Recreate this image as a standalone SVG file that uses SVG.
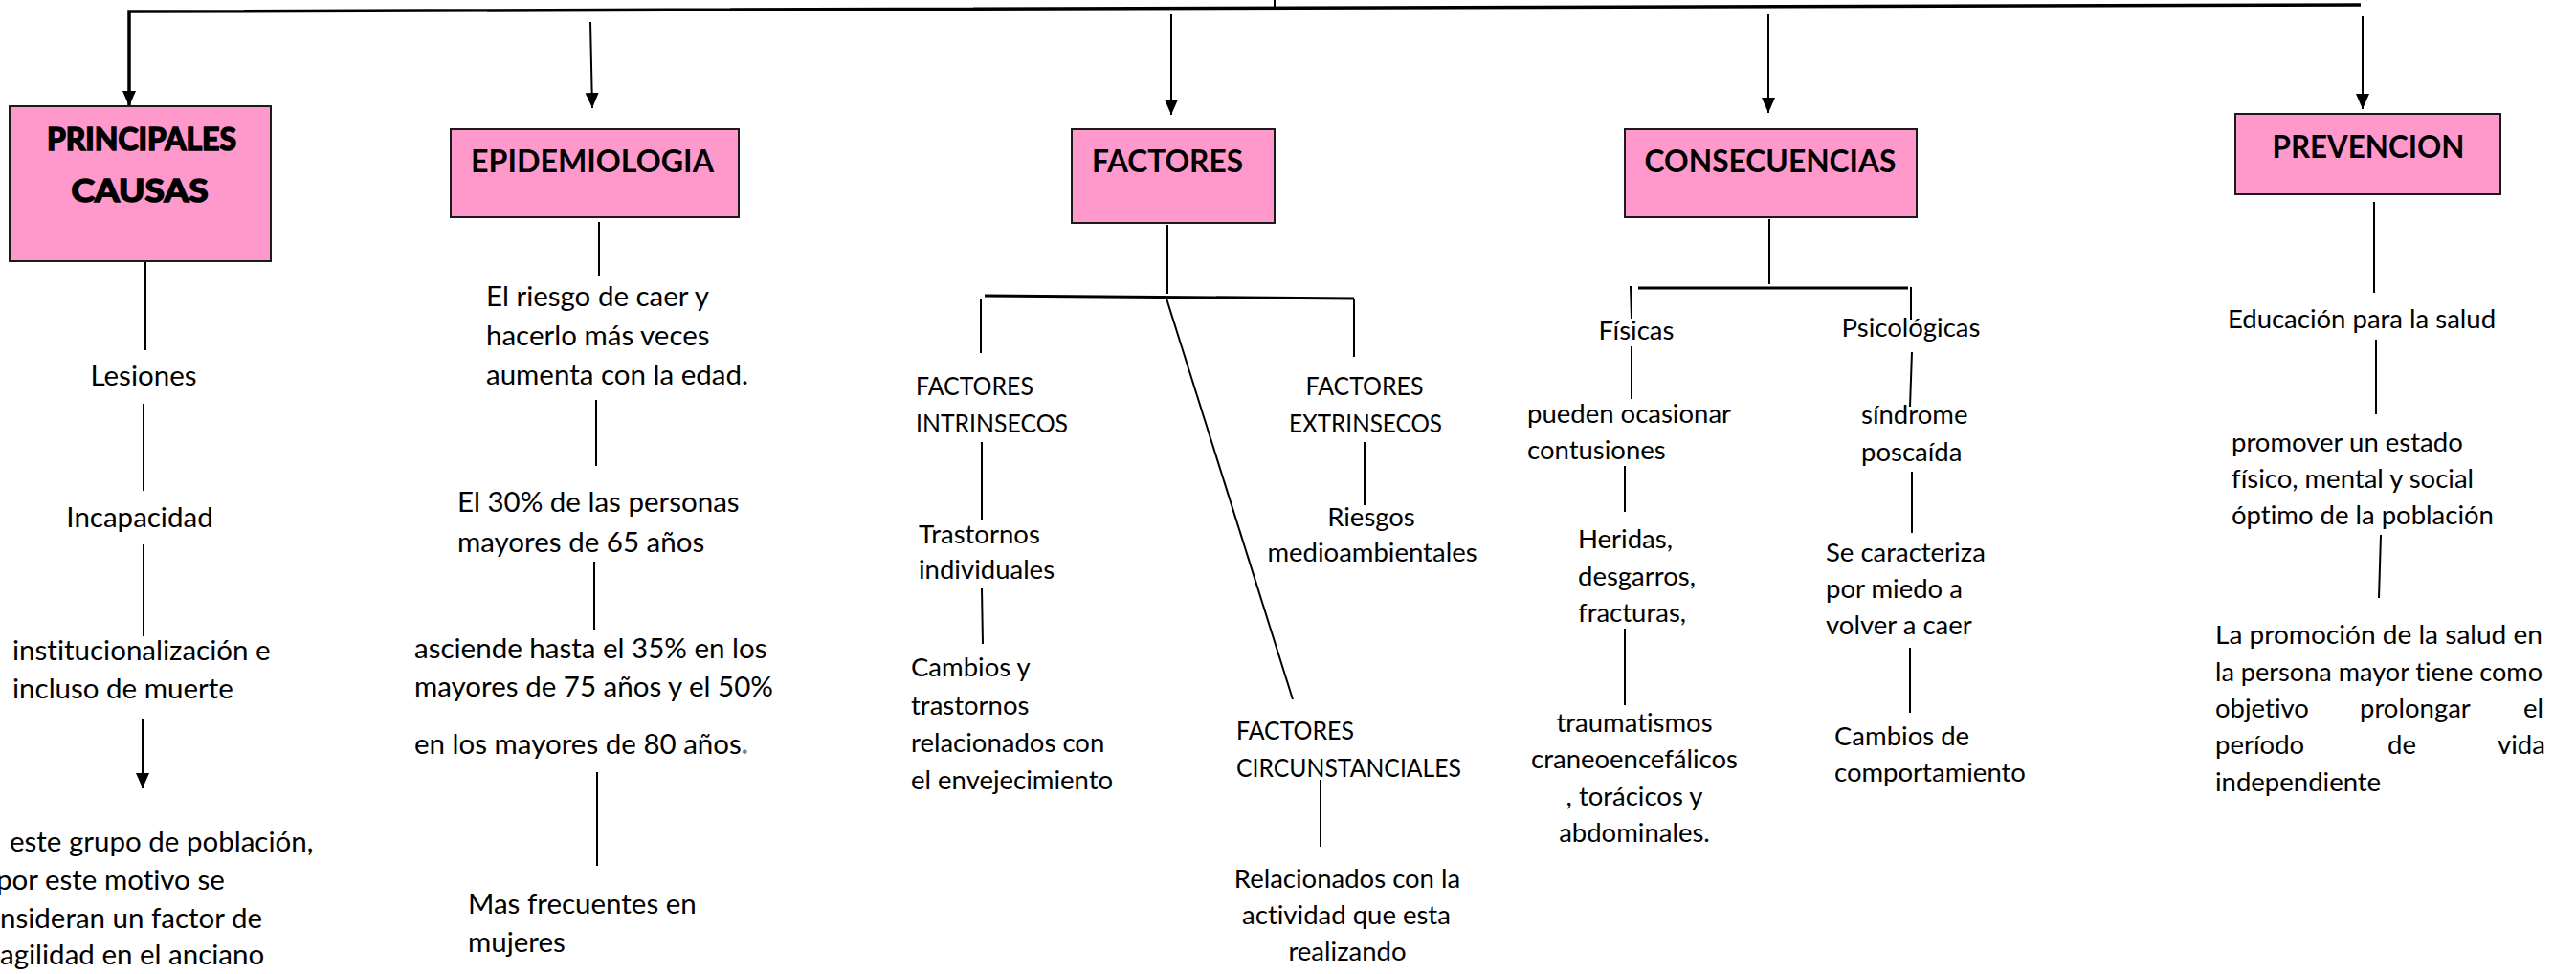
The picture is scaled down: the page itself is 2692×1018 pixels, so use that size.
<svg xmlns="http://www.w3.org/2000/svg" width="2692" height="1018" viewBox="0 0 2692 1018">
<style>
.bg{fill:#ffffff}
.box{fill:#ff99cc;stroke:#1a1a1a;stroke-width:2}
text{font-variant-ligatures:none}
.h{font-family:Lato,"Liberation Sans",sans-serif;font-weight:bold;font-size:32px;fill:#000}
.hh{stroke:#000;stroke-width:1.6}
.t{font-family:Lato,"Liberation Sans",sans-serif;font-size:29.5px;fill:#000}
.s{font-family:Lato,"Liberation Sans",sans-serif;font-size:27.5px;fill:#000}
.m{text-anchor:middle}
.ln{stroke:#000;stroke-width:2;fill:none}
.thick{stroke:#000;stroke-width:3.5;fill:none}
.mid{stroke:#000;stroke-width:3;fill:none}
.dot{fill:#808080;font-weight:bold}
</style>
<defs>
<marker id="ah" viewBox="0 0 16 14" markerWidth="16" markerHeight="14" refX="16" refY="7" orient="auto" markerUnits="userSpaceOnUse">
<path d="M0,0 L16,7 L0,14 z" fill="#000"/>
</marker>
</defs>
<rect class="bg" x="0" y="0" width="2692" height="1018"/>

<g id="connectors">
<line class="ln" x1="1332" y1="0" x2="1332" y2="9"/>
<polyline class="thick" points="135,112 135,12 2467,5"/>
<line class="ln" x1="135" y1="20" x2="135" y2="111" marker-end="url(#ah)"/>
<line class="ln" x1="617" y1="23" x2="619" y2="113" marker-end="url(#ah)"/>
<line class="ln" x1="1224" y1="15" x2="1224" y2="120" marker-end="url(#ah)"/>
<line class="ln" x1="1848" y1="15" x2="1848" y2="118" marker-end="url(#ah)"/>
<line class="ln" x1="2469" y1="17" x2="2469" y2="114" marker-end="url(#ah)"/>

<line class="ln" x1="152" y1="273" x2="152" y2="366"/>
<line class="ln" x1="150" y1="422" x2="150" y2="513"/>
<line class="ln" x1="150" y1="569" x2="150" y2="665"/>
<line class="ln" x1="149" y1="752" x2="149" y2="824" marker-end="url(#ah)"/>

<line class="ln" x1="626" y1="232" x2="626" y2="288"/>
<line class="ln" x1="623" y1="418" x2="623" y2="487"/>
<line class="ln" x1="621" y1="587" x2="621" y2="658"/>
<line class="ln" x1="624" y1="807" x2="624" y2="905"/>

<line class="ln" x1="1220" y1="235" x2="1220" y2="307"/>
<line class="mid" x1="1029" y1="309" x2="1415" y2="312"/>
<line class="ln" x1="1025" y1="312" x2="1025" y2="369"/>
<line class="ln" x1="1415" y1="312" x2="1415" y2="373"/>
<line class="ln" x1="1219" y1="312" x2="1351" y2="731"/>
<line class="ln" x1="1026" y1="462" x2="1026" y2="544"/>
<line class="ln" x1="1026" y1="615" x2="1027" y2="673"/>
<line class="ln" x1="1426" y1="462" x2="1426" y2="528"/>
<line class="ln" x1="1380" y1="815" x2="1380" y2="885"/>

<line class="ln" x1="1849" y1="229" x2="1849" y2="297"/>
<line class="mid" x1="1712" y1="301" x2="1994" y2="301"/>
<line class="ln" x1="1704" y1="299" x2="1705" y2="333"/>
<line class="ln" x1="1997" y1="300" x2="1997" y2="334"/>
<line class="ln" x1="1705" y1="362" x2="1705" y2="417"/>
<line class="ln" x1="1698" y1="487" x2="1698" y2="535"/>
<line class="ln" x1="1698" y1="657" x2="1698" y2="737"/>
<line class="ln" x1="1998" y1="368" x2="1996" y2="425"/>
<line class="ln" x1="1998" y1="493" x2="1998" y2="557"/>
<line class="ln" x1="1996" y1="677" x2="1996" y2="745"/>

<line class="ln" x1="2481" y1="211" x2="2481" y2="306"/>
<line class="ln" x1="2483" y1="355" x2="2483" y2="433"/>
<line class="ln" x1="2488" y1="559" x2="2486" y2="625"/>
</g>

<g id="principales">
<rect class="box" x="10" y="111" width="273" height="162"/>
<text class="h hh m" x="148" y="157" textLength="198" lengthAdjust="spacingAndGlyphs">PRINCIPALES</text>
<text class="h hh m" x="146" y="211" textLength="143" lengthAdjust="spacingAndGlyphs">CAUSAS</text>
</g>
<g id="lesiones"><text class="t m" x="150" y="403">Lesiones</text></g>
<g id="incapacidad"><text class="t m" x="146" y="551">Incapacidad</text></g>
<g id="institucionalizacion">
<text class="t" x="13" y="690">institucionalización e</text>
<text class="t" x="13" y="730">incluso de muerte</text>
</g>
<g id="grupo">
<text class="t" x="10" y="890">este grupo de población,</text>
<text class="t" x="-4" y="930">por este motivo se</text>
<text class="t" x="0" y="970">nsideran un factor de</text>
<text class="t" x="0" y="1008">agilidad en el anciano</text>
</g>

<g id="epidemiologia">
<rect class="box" x="471" y="135" width="301" height="92"/>
<text class="h m" x="619" y="180" textLength="254" lengthAdjust="spacingAndGlyphs">EPIDEMIOLOGIA</text>
</g>
<g id="riesgo">
<text class="t" x="508" y="320">El riesgo de caer y</text>
<text class="t" x="508" y="361">hacerlo más veces</text>
<text class="t" x="508" y="402">aumenta con la edad.</text>
</g>
<g id="treinta">
<text class="t" x="478" y="535">El 30% de las personas</text>
<text class="t" x="478" y="577">mayores de 65 años</text>
</g>
<g id="asciende">
<text class="t" x="433" y="688">asciende hasta el 35% en los</text>
<text class="t" x="433" y="728">mayores de 75 años y el 50%</text>
<text class="t" x="433" y="788">en los mayores de 80 años<tspan class="dot">.</tspan></text>
</g>
<g id="mujeres">
<text class="t" x="489" y="955">Mas frecuentes en</text>
<text class="t" x="489" y="995">mujeres</text>
</g>

<g id="factores">
<rect class="box" x="1120" y="135" width="212" height="98"/>
<text class="h m" x="1220" y="180" textLength="158" lengthAdjust="spacingAndGlyphs">FACTORES</text>
</g>
<g id="intrinsecos">
<text class="s" x="957" y="413" textLength="123" lengthAdjust="spacingAndGlyphs">FACTORES</text>
<text class="s" x="957" y="452" textLength="159" lengthAdjust="spacingAndGlyphs">INTRINSECOS</text>
</g>
<g id="trastornos">
<text class="s" x="960" y="568">Trastornos</text>
<text class="s" x="960" y="605">individuales</text>
</g>
<g id="cambios-env">
<text class="s" x="952" y="707">Cambios y</text>
<text class="s" x="952" y="747">trastornos</text>
<text class="s" x="952" y="786">relacionados con</text>
<text class="s" x="952" y="825">el envejecimiento</text>
</g>
<g id="extrinsecos">
<text class="s m" x="1426" y="413" textLength="123" lengthAdjust="spacingAndGlyphs">FACTORES</text>
<text class="s m" x="1427" y="452" textLength="160" lengthAdjust="spacingAndGlyphs">EXTRINSECOS</text>
</g>
<g id="riesgos">
<text class="s m" x="1433" y="550">Riesgos</text>
<text class="s m" x="1434" y="587">medioambientales</text>
</g>
<g id="circunstanciales">
<text class="s" x="1292" y="773" textLength="123" lengthAdjust="spacingAndGlyphs">FACTORES</text>
<text class="s" x="1292" y="812" textLength="235" lengthAdjust="spacingAndGlyphs">CIRCUNSTANCIALES</text>
</g>
<g id="actividad">
<text class="s m" x="1408" y="928">Relacionados con la</text>
<text class="s m" x="1407" y="966">actividad que esta</text>
<text class="s m" x="1408" y="1004">realizando</text>
</g>

<g id="consecuencias">
<rect class="box" x="1698" y="135" width="305" height="92"/>
<text class="h m" x="1850" y="180" textLength="263" lengthAdjust="spacingAndGlyphs">CONSECUENCIAS</text>
</g>
<g id="fisicas"><text class="s m" x="1710" y="355">Físicas</text></g>
<g id="psicologicas"><text class="s m" x="1997" y="352">Psicológicas</text></g>
<g id="contusiones">
<text class="s" x="1596" y="442">pueden ocasionar</text>
<text class="s" x="1596" y="480">contusiones</text>
</g>
<g id="heridas">
<text class="s" x="1649" y="573">Heridas,</text>
<text class="s" x="1649" y="612">desgarros,</text>
<text class="s" x="1649" y="650">fracturas,</text>
</g>
<g id="traumatismos">
<text class="s m" x="1708" y="765">traumatismos</text>
<text class="s m" x="1708" y="803">craneoencefálicos</text>
<text class="s m" x="1708" y="842">, torácicos y</text>
<text class="s m" x="1708" y="880">abdominales.</text>
</g>
<g id="sindrome">
<text class="s" x="1945" y="443">síndrome</text>
<text class="s" x="1945" y="482">poscaída</text>
</g>
<g id="miedo">
<text class="s" x="1908" y="587">Se caracteriza</text>
<text class="s" x="1908" y="625">por miedo a</text>
<text class="s" x="1908" y="663">volver a caer</text>
</g>
<g id="comportamiento">
<text class="s" x="1917" y="779">Cambios de</text>
<text class="s" x="1917" y="817">comportamiento</text>
</g>

<g id="prevencion">
<rect class="box" x="2336" y="119" width="277" height="84"/>
<text class="h m" x="2475" y="165" textLength="201" lengthAdjust="spacingAndGlyphs">PREVENCION</text>
</g>
<g id="educacion"><text class="s m" x="2468" y="343">Educación para la salud</text></g>
<g id="promover">
<text class="s" x="2332" y="472">promover un estado</text>
<text class="s" x="2332" y="510">físico, mental y social</text>
<text class="s" x="2332" y="548">óptimo de la población</text>
</g>
<g id="promocion">
<text class="s" x="2315" y="673" textLength="342" lengthAdjust="spacingAndGlyphs">La promoción de la salud en</text>
<text class="s" x="2315" y="712" textLength="342" lengthAdjust="spacingAndGlyphs">la persona mayor tiene como</text>
<text class="s" y="750"><tspan x="2315">objetivo </tspan><tspan x="2466">prolongar </tspan><tspan x="2637">el</tspan></text>
<text class="s" y="788"><tspan x="2315">período </tspan><tspan x="2495">de </tspan><tspan x="2610">vida</tspan></text>
<text class="s" x="2315" y="827">independiente</text>
</g>
</svg>
